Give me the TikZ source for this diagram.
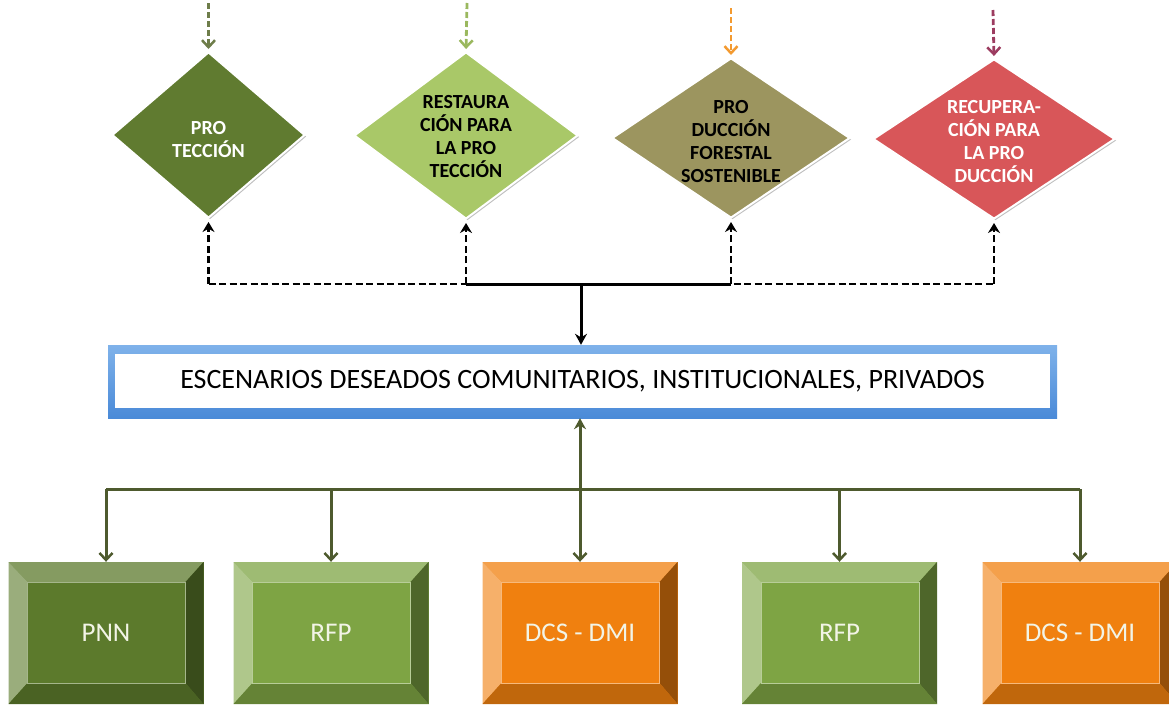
\documentclass[tikz,border=0pt]{standalone}
\usepackage{fontspec}
\setmainfont{Carlito}
\usetikzlibrary{shapes.geometric,arrows.meta,shadows}

\definecolor{proteccion}{HTML}{607B30}
\definecolor{restauracion}{HTML}{A9C868}
\definecolor{produccion}{HTML}{9C955F}
\definecolor{recuperacion}{HTML}{D85659}
\definecolor{arrowA}{HTML}{6E7D4A}
\definecolor{arrowB}{HTML}{9AB85E}
\definecolor{arrowC}{HTML}{F39A30}
\definecolor{arrowD}{HTML}{9C3C60}
\definecolor{pnncol}{HTML}{5C7A2C}
\definecolor{rfpcol}{HTML}{7EA444}
\definecolor{dcscol}{HTML}{F0800F}
\definecolor{boxtext}{HTML}{F2F4E6}
\definecolor{blueTop}{HTML}{7FB2EA}
\definecolor{blueBot}{HTML}{4A8AD8}
\definecolor{olivedark}{HTML}{4E5A2E}

\begin{document}
\begin{tikzpicture}[x=1pt,y=-1pt,
  rhomb/.style={diamond, draw=white, line width=2pt, inner sep=0pt,
    fill=#1, drop shadow={shadow xshift=1.5pt,shadow yshift=-1.5pt,opacity=0.25,fill=black}},
  rtext/.style={font=\fontsize{20}{23}\selectfont\bfseries, align=center, inner sep=0pt},
  topdash/.style={draw=#1, line width=2.8pt, dash pattern=on 6pt off 3pt,
    -{Straight Barb[length=7pt,width=13pt,line width=2.5pt]}, shorten >=2pt},
  dashconn/.style={draw=black, line width=2.5pt, dash pattern=on 7pt off 3.5pt},
  oliveline/.style={draw=olivedark, line width=3pt},
  bevelbox/.style={rectangle, fill=#1, minimum width=195pt, minimum height=142pt,
    inner sep=0pt, text=boxtext, font=\fontsize{27}{31}\selectfont,
    path picture={
      \coordinate (pnw) at (path picture bounding box.north west);
      \coordinate (pne) at (path picture bounding box.north east);
      \coordinate (psw) at (path picture bounding box.south west);
      \coordinate (pse) at (path picture bounding box.south east);
      \coordinate (inw) at ([xshift=19pt,yshift=-20pt]pnw);
      \coordinate (ine) at ([xshift=-18pt,yshift=-20pt]pne);
      \coordinate (isw) at ([xshift=19pt,yshift=21pt]psw);
      \coordinate (ise) at ([xshift=-18pt,yshift=21pt]pse);
      \fill[#1!75!white] (pnw) -- (pne) -- (ine) -- (inw) -- cycle;
      \fill[#1!62!white] (pnw) -- (inw) -- (isw) -- (psw) -- cycle;
      \fill[#1!62!black] (pne) -- (ine) -- (ise) -- (pse) -- cycle;
      \fill[#1!80!black] (psw) -- (isw) -- (ise) -- (pse) -- cycle;
      \draw[#1!55!white, line width=0.8pt] (inw) rectangle (ise);
    }},
  escbox/.style={rectangle, top color=blueTop, bottom color=blueBot,
    minimum width=949pt, minimum height=73pt, inner sep=0pt,
    font=\fontsize{28}{32}\selectfont,
    path picture={
      \fill[white] ([xshift=7pt,yshift=-9pt]path picture bounding box.north west)
        rectangle ([xshift=-7pt,yshift=10pt]path picture bounding box.south east);
    }}
]
\useasboundingbox (0,0) rectangle (1169,704);
\fill[white] (0,0) rectangle (1169,704);

% objective diamonds
\node[rhomb=proteccion,   minimum width=193pt, minimum height=166pt] (d1) at (208.5,135) {};
\node[rhomb=restauracion, minimum width=224pt, minimum height=167pt] (d2) at (466,135.5) {};
\node[rhomb=produccion,   minimum width=238pt, minimum height=160pt] (d3) at (731,138) {};
\node[rhomb=recuperacion, minimum width=242pt, minimum height=160pt] (d4) at (994,139) {};

\node[rtext, text=white] (d1t) at (208.5,140) {PRO\\TECCIÓN};
\node[rtext, text=black] (d2t) at (466,137) {RESTAURA\\CIÓN PARA\\LA PRO\\TECCIÓN};
\node[rtext, text=black] (d3t) at (731,142) {PRO\\DUCCIÓN\\FORESTAL\\SOSTENIBLE};
\node[rtext, text=white] (d4t) at (994,142) {RECUPERA-\\CIÓN PARA\\LA PRO\\DUCCIÓN};

% incoming arrows above the diamonds
\coordinate (t1) at (208.5,3);
\coordinate (t2) at (467,3);
\coordinate (t3) at (731,8);
\coordinate (t4) at (993,10);
\draw[topdash=arrowA] (t1) -- (d1.north);
\draw[topdash=arrowB] (t2) -- (d2.north);
\draw[topdash=arrowC] (t3) -- (d3.north);
\draw[topdash=arrowD] (t4) -- (d4.north);

% scenarios box
\node[escbox] (esc) at (582.5,381.5) {ESCENARIOS DESEADOS COMUNITARIOS, INSTITUCIONALES, PRIVADOS};

% dashed distribution to the diamonds
\coordinate (dbus) at (581,284);
\draw[dashconn] (d1.south |- dbus) -- (d4.south |- dbus);
\draw[black, line width=3pt] (d2.south |- dbus) -- (d3.south |- dbus);
\foreach \d in {d1,d2,d3,d4}
  \draw[dashconn, -{Stealth[length=10pt,width=12pt]}, shorten >=3pt] (\d.south |- dbus) -- (\d.south);
\draw[black, line width=3pt, -{Stealth[length=11pt,width=12pt]}] (dbus) -- (dbus |- esc.north);

% land categories
\node[bevelbox=pnncol] (b1) at (106,633) {PNN};
\node[bevelbox=rfpcol] (b2) at (331,633) {RFP};
\node[bevelbox=dcscol] (b3) at (580,633) {DCS - DMI};
\node[bevelbox=rfpcol] (b4) at (839.5,633) {RFP};
\node[bevelbox=dcscol] (b5) at (1080,633) {DCS - DMI};

% solid distribution to the boxes
\coordinate (obus) at (580,489);
\draw[oliveline] (b1.north |- obus) -- (b5.north |- obus);
\draw[oliveline, {Stealth[length=11pt,width=12pt]}-{Straight Barb[length=7pt,width=13pt,line width=2.5pt]}]
  (esc.south -| b3.north) -- (b3.north);
\foreach \b in {b1,b2,b4,b5}
  \draw[oliveline, -{Straight Barb[length=7pt,width=13pt,line width=2.5pt]}] (\b.north |- obus) -- (\b.north);
\end{tikzpicture}
\end{document}
